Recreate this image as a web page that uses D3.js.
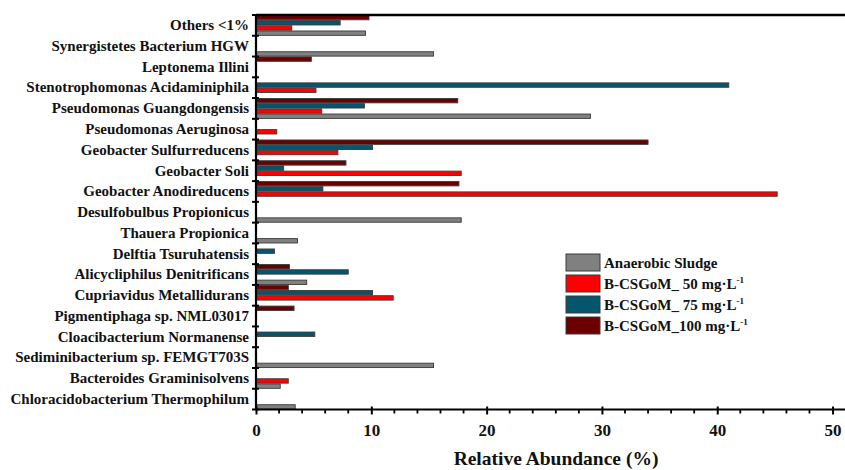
<!DOCTYPE html>
<html>
<head>
<meta charset="utf-8">
<script src="https://cdn.jsdelivr.net/npm/d3@7"></script>
<style>
  html, body { margin: 0; padding: 0; background: #fff; }
  svg { display: block; }
  text { font-family: "Liberation Serif", "Times New Roman", serif; font-weight: bold; fill: #111; }
</style>
</head>
<body>
<svg id="chart" width="845" height="470"></svg>
<script>
// Genera, listed top to bottom
const categories = [
  "Others <1%",
  "Synergistetes Bacterium HGW",
  "Leptonema Illini",
  "Stenotrophomonas Acidaminiphila",
  "Pseudomonas Guangdongensis",
  "Pseudomonas Aeruginosa",
  "Geobacter Sulfurreducens",
  "Geobacter Soli",
  "Geobacter Anodireducens",
  "Desulfobulbus Propionicus",
  "Thauera Propionica",
  "Delftia Tsuruhatensis",
  "Alicycliphilus Denitrificans",
  "Cupriavidus Metallidurans",
  "Pigmentiphaga sp. NML03017",
  "Cloacibacterium Normanense",
  "Sediminibacterium sp. FEMGT703S",
  "Bacteroides Graminisolvens",
  "Chloracidobacterium Thermophilum"
];

// Relative abundance (%) per sample, same order as categories
const sludge = [9.5, 15.4, 0, 0, 29.0, 0, 0, 0, 0, 17.8, 3.6, 0, 4.4, 0, 0, 0, 15.4, 2.1, 3.4];
const mg50   = [3.1, 0, 0, 5.2, 5.7, 1.8, 7.1, 17.8, 45.2, 0, 0, 0, 0, 11.9, 0, 0, 0, 2.8, 0];
const mg75   = [7.3, 0, 0, 41.0, 9.4, 0, 10.1, 2.4, 5.8, 0, 0, 1.6, 8.0, 10.1, 0, 5.1, 0, 0, 0];
const mg100  = [9.8, 0, 4.8, 0, 17.5, 0, 34.0, 7.8, 17.6, 0, 0, 0, 2.9, 2.8, 3.3, 0, 0, 0, 0];

const seriesNames = ["Anaerobic Sludge", "B-CSGoM_ 50 mg·L", "B-CSGoM_ 75 mg·L", "B-CSGoM_100 mg·L"];
const seriesUnitSup = [null, "-1", "-1", "-1"];
const seriesValues = [sludge, mg50, mg75, mg100];
const seriesColors = ["#808080", "#ff0000", "#04566f", "#6c0000"];

const xTickValues = [0, 10, 20, 30, 40, 50];
const xTitle = "Relative Abundance (%)";

const svg = d3.select("#chart");
const plotLeft = 256, plotRight = 845, plotTop = 15, plotBottom = 409.5;

const x = d3.scaleLinear().domain([0, 51.08]).range([plotLeft, plotRight]);
const y = d3.scaleBand().domain(categories).range([plotTop, plotBottom]).padding(0);

// within each band: 100 on top, then 75, 50, sludge at the bottom
const slotOrder = [3, 2, 1, 0];
const ySub = d3.scaleBand().domain(slotOrder).range([0, y.bandwidth()]).padding(0);

// bars
const barData = [];
categories.forEach((c, i) => {
  seriesValues.forEach((vals, s) => {
    if (vals[i] > 0) barData.push({ cat: c, s: s, v: vals[i] });
  });
});

svg.append("g").selectAll("rect")
  .data(barData)
  .join("rect")
  .attr("x", x(0))
  .attr("y", d => y(d.cat) + ySub(d.s) + 0.4)
  .attr("width", d => x(d.v) - x(0))
  .attr("height", ySub.bandwidth() - 0.8)
  .attr("fill", d => seriesColors[d.s])
  .attr("stroke", "#3a3a3a")
  .attr("stroke-width", 0.9);

// top frame line
svg.append("line")
  .attr("x1", plotLeft).attr("x2", plotRight)
  .attr("y1", plotTop).attr("y2", plotTop)
  .attr("stroke", "#000").attr("stroke-width", 2.6);

// x axis: major ticks crossing the line, minor ticks every 2
const xAxis = svg.append("g")
  .attr("transform", `translate(0,${plotBottom})`)
  .call(d3.axisBottom(x).tickValues(xTickValues).tickFormat(d3.format("d")).tickSize(5).tickPadding(9));
xAxis.select(".domain").attr("stroke", "#000").attr("stroke-width", 2.2).attr("d", `M${plotLeft},0H${plotRight}`);
xAxis.selectAll(".tick line").attr("y1", -3).attr("y2", 5).attr("stroke", "#000").attr("stroke-width", 2);
xAxis.selectAll(".tick text")
  .style("font-family", "'Liberation Serif', 'Times New Roman', serif")
  .style("font-weight", "bold").style("font-size", "17px").attr("fill", "#111");

const minorVals = d3.range(0, 51, 2).filter(v => v % 10 !== 0);
svg.append("g").selectAll("line")
  .data(minorVals)
  .join("line")
  .attr("x1", d => x(d)).attr("x2", d => x(d))
  .attr("y1", plotBottom).attr("y2", plotBottom + 4)
  .attr("stroke", "#000").attr("stroke-width", 1.8);

// y axis: labels centred in bands, ticks on band boundaries
const yAxis = svg.append("g")
  .attr("transform", `translate(${plotLeft},0)`)
  .call(d3.axisLeft(y).tickSize(0).tickPadding(7));
yAxis.select(".domain").attr("stroke", "#000").attr("stroke-width", 2.2).attr("d", `M0,${plotTop}V${plotBottom}`);
yAxis.selectAll(".tick text")
  .style("font-family", "'Liberation Serif', 'Times New Roman', serif")
  .style("font-weight", "bold").style("font-size", "15px").attr("fill", "#111");

const boundaries = categories.map(c => y(c)).concat([plotBottom]);
svg.append("g").selectAll("line")
  .data(boundaries)
  .join("line")
  .attr("x1", plotLeft - 4).attr("x2", plotLeft + 3)
  .attr("y1", d => d).attr("y2", d => d)
  .attr("stroke", "#000").attr("stroke-width", 2);

// x title
svg.append("text")
  .attr("x", 556).attr("y", 465)
  .attr("text-anchor", "middle")
  .style("font-size", "19.5px")
  .text(xTitle);

// legend
const legend = svg.append("g").attr("transform", "translate(566,254)");
const item = legend.selectAll("g")
  .data(seriesNames)
  .join("g")
  .attr("transform", (d, i) => `translate(0,${i * 21})`);
item.append("rect")
  .attr("width", 34).attr("height", 17)
  .attr("fill", (d, i) => seriesColors[i])
  .attr("stroke", "#3a3a3a").attr("stroke-width", 1);
const lt = item.append("text")
  .attr("x", 38).attr("y", 13.5)
  .style("font-size", "15px");
lt.append("tspan").text(d => d);
lt.filter(d => seriesUnitSup[seriesNames.indexOf(d)])
  .append("tspan")
  .attr("dy", -6)
  .style("font-size", "9px")
  .text(d => seriesUnitSup[seriesNames.indexOf(d)]);
</script>
</body>
</html>
